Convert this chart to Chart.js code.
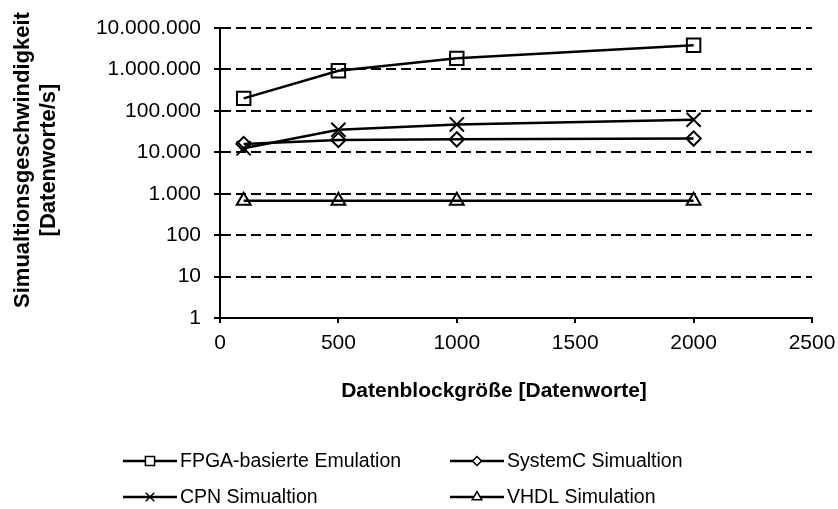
<!DOCTYPE html>
<html>
<head>
<meta charset="utf-8">
<script src="https://cdn.jsdelivr.net/npm/chart.js@4/dist/chart.umd.min.js"></script>
<style>
  body { margin: 0; background: #fff; }
  #wrap { width: 838px; height: 509px; }
</style>
</head>
<body>
<div id="wrap"><canvas id="chart" width="838" height="509"></canvas></div>
<script>
// Datenblockgroesse (x) und Simulationsgeschwindigkeit (y)
const blockSizes = [100, 500, 1000, 2000];
const fpgaValues = [200000, 930000, 1850000, 3850000];
const systemcValues = [15800, 19800, 20500, 21500];
const cpnValues = [12500, 35000, 47000, 61000];
const vhdlValues = [680, 680, 680, 680];

const seriesNames = ['FPGA-basierte Emulation', 'SystemC Simualtion', 'CPN Simualtion', 'VHDL Simulation'];

// Achsenbeschriftungen
const xTicks = [0, 500, 1000, 1500, 2000, 2500];
const yTicks = [1, 10, 100, 1000, 10000, 100000, 1000000, 10000000];
const xTitle = 'Datenblockgröße [Datenworte]';
const yTitle = ['Simualtionsgeschwindigkeit', '[Datenworte/s]'];

const FONT = '"Liberation Sans", Arial, sans-serif';

//punkte aus den arrays bauen
const toPoints = (vals) => vals.map((v, i) => ({x: blockSizes[i], y: v}));

//Formato aleman: 10.000.000
const fmt = (v) => String(Math.round(v)).replace(/\B(?=(\d{3})+(?!\d))/g, '.');

const markers = [
  {style: 'rect', r: 9.5, legendR: 6.5},
  {style: 'rectRot', r: 7.2, legendR: 4.5},
  {style: 'crossRot', r: 10, legendR: 6},
  {style: 'triangle', r: 8, legendR: 5.5}
];
const values = [fpgaValues, systemcValues, cpnValues, vhdlValues];

let datasets = values.map((vals, i) => ({
  label: seriesNames[i],
  data: toPoints(vals),
  borderColor: '#000',
  borderWidth: 2.5,
  pointStyle: markers[i].style,
  pointRadius: markers[i].r,
  pointBorderWidth: 2,
  pointBorderColor: '#000',
  pointBackgroundColor: 'rgba(0,0,0,0)',
  tension: 0,
  fill: false
}));

//dibuja un marcador pequeño (para la leyenda)
function drawMark(ctx, style, r, x, y) {
  if (Chart.helpers && Chart.helpers.drawPoint) {
    Chart.helpers.drawPoint(ctx, {pointStyle: style, radius: r, rotation: 0, borderWidth: 1.5}, x, y);
    return;
  }
  ctx.beginPath();
  if (style === 'rect') {
    const s = r * Math.SQRT1_2;
    ctx.rect(x - s, y - s, 2 * s, 2 * s);
  } else if (style === 'rectRot') {
    ctx.moveTo(x - r, y); ctx.lineTo(x, y - r); ctx.lineTo(x + r, y); ctx.lineTo(x, y + r); ctx.closePath();
  } else if (style === 'crossRot') {
    const s = r * Math.SQRT1_2;
    ctx.moveTo(x - s, y - s); ctx.lineTo(x + s, y + s);
    ctx.moveTo(x + s, y - s); ctx.lineTo(x - s, y + s);
  } else {
    ctx.moveTo(x, y - r); ctx.lineTo(x + r * 0.866, y + r / 2); ctx.lineTo(x - r * 0.866, y + r / 2); ctx.closePath();
  }
  ctx.stroke();
}

//titulos de ejes y leyenda
const extras = {
  id: 'extras',
  afterDraw(chart) {
    const ctx = chart.ctx;
    ctx.save();
    ctx.fillStyle = '#000';
    ctx.textBaseline = 'middle';
    ctx.textAlign = 'center';
    //titulo eje x
    ctx.font = 'bold 21px ' + FONT;
    ctx.fillText(xTitle, 494, 391);
    //titulo eje y (rotado)
    ctx.font = 'bold 22px ' + FONT;
    ctx.translate(23, 160);
    ctx.rotate(-Math.PI / 2);
    ctx.fillText(yTitle[0], 0, 0);
    ctx.fillText(yTitle[1], 0, 26);
    ctx.setTransform(1, 0, 0, 1, 0, 0);

    //leyenda en dos columnas
    const slots = [[123, 461], [450, 461], [123, 497], [450, 497]];
    ctx.font = '19.5px ' + FONT;
    ctx.textAlign = 'left';
    chart.data.datasets.forEach((ds, i) => {
      const [lx, ly] = slots[i];
      ctx.strokeStyle = '#000';
      ctx.lineWidth = 2.5;
      ctx.beginPath();
      ctx.moveTo(lx, ly);
      ctx.lineTo(lx + 54, ly);
      ctx.stroke();
      ctx.lineWidth = 1.5;
      ctx.fillStyle = '#fff';
      drawMark(ctx, markers[i].style, markers[i].legendR, lx + 27, ly);
      ctx.fillStyle = '#000';
      ctx.fillText(ds.label, lx + 57, ly + 1);
    });
    ctx.restore();
  }
};

let ctx = document.getElementById('chart');
let chart = new Chart(ctx, {
  type: 'line',
  data: {datasets: datasets},
  plugins: [extras],
  options: {
    responsive: false,
    animation: false,
    layout: {padding: {left: 0, right: 26, top: 28, bottom: 0}},
    plugins: {
      legend: {display: false},
      tooltip: {enabled: false}
    },
    scales: {
      x: {
        type: 'linear',
        min: 0,
        max: 2500,
        afterBuildTicks: (scale) => { scale.ticks = xTicks.map(v => ({value: v})); },
        afterFit: (scale) => {
          scale.height = 191;
          scale.paddingLeft = 0;
          scale.paddingRight = 0;
        },
        ticks: {
          color: '#000',
          font: {family: FONT, size: 21},
          padding: 8,
          maxRotation: 0,
          callback: (v) => String(v)
        },
        grid: {
          drawOnChartArea: false,
          drawTicks: true,
          tickLength: 5,
          tickWidth: 2,
          tickColor: '#000',
          color: '#000',
          lineWidth: 2
        },
        border: {display: true, color: '#000', width: 2}
      },
      y: {
        type: 'logarithmic',
        min: 1,
        max: 10000000,
        afterBuildTicks: (scale) => { scale.ticks = yTicks.map(v => ({value: v})); },
        afterFit: (scale) => {
          scale.width = 220;
          scale.paddingTop = 0;
          scale.paddingBottom = 0;
        },
        ticks: {
          color: '#000',
          font: {family: FONT, size: 21},
          padding: 13,
          callback: (v) => fmt(v)
        },
        grid: {
          color: '#000',
          lineWidth: 2,
          drawTicks: true,
          tickLength: 6,
          tickWidth: 2,
          tickColor: '#000'
        },
        border: {display: true, color: '#000', width: 2, dash: [10, 5]}
      }
    }
  }
});
</script>
</body>
</html>
